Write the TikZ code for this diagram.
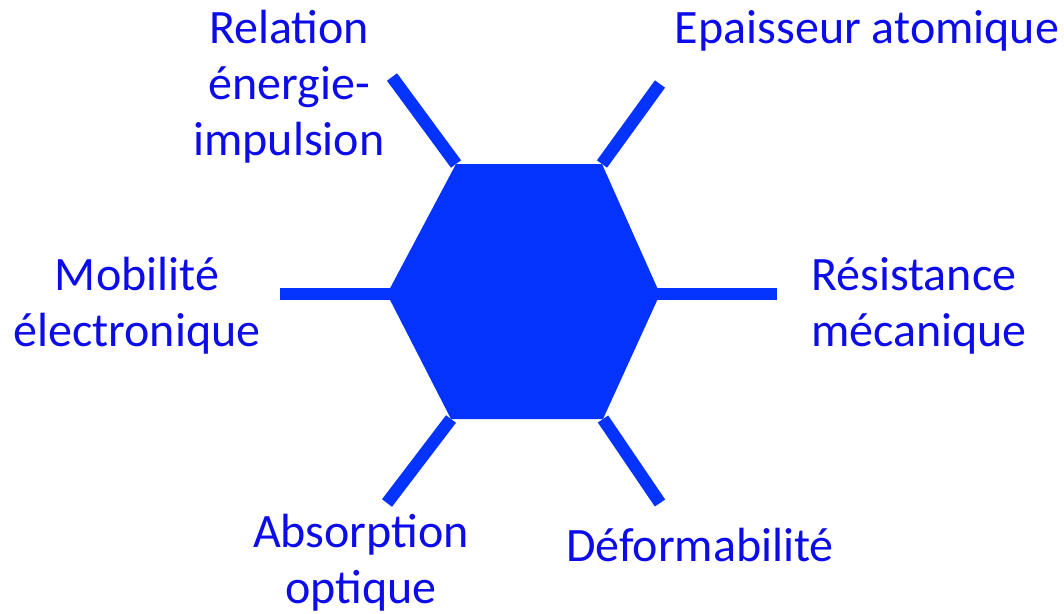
\documentclass[tikz,border=0pt]{standalone}
\usepackage{fontspec}
\setmainfont{Carlito}
\definecolor{hexblue}{RGB}{4,51,255}
\definecolor{txtblue}{RGB}{12,12,235}
\begin{document}
\begin{tikzpicture}[x=1pt,y=-1pt,
  arm/.style={draw=hexblue,line width=12.5pt},
  lbl/.style={text=txtblue,font=\fontsize{48}{56}\selectfont,inner sep=0pt,align=center,anchor=base}]
\useasboundingbox (0,0) rectangle (1064,613);
% hexagon vertices
\coordinate (vtl) at (456,164);
\coordinate (vtr) at (602,164);
\coordinate (vr) at (660,294);
\coordinate (vbr) at (603,419);
\coordinate (vbl) at (451,419);
\coordinate (vl) at (387,294);
% arm ends
\coordinate (etl) at (392,77);
\coordinate (etr) at (660,84);
\coordinate (er) at (777,294);
\coordinate (ebr) at (660,503);
\coordinate (ebl) at (387,503);
\coordinate (el) at (280,294);
\draw[arm] (vtl) -- (etl);
\draw[arm] (vtr) -- (etr);
\draw[arm] ([xshift=-5pt]vr.center) -- (er);
\draw[arm] (vbr) -- (ebr);
\draw[arm] (vbl) -- (ebl);
\draw[arm] ([xshift=5pt]vl.center) -- (el);
\fill[hexblue] (vtl) -- (vtr) -- (vr) -- (vbr) -- (vbl) -- (vl) -- cycle;
% labels (base anchor = baseline of the last line)
\node[lbl] (relation) at (289,155) {Relation\\énergie-\\impulsion};
\node[lbl] (epaisseur) at (867,43) {Epaisseur atomique};
\node[lbl] (mobilite) at (137,346) {Mobilité\\électronique};
\node[lbl,align=left,anchor=base west] (resistance) at (811,346) {Résistance\\mécanique};
\node[lbl] (absorption) at (361,603) {Absorption\\optique};
\node[lbl] (deformabilite) at (700,561) {Déformabilité};
\end{tikzpicture}
\end{document}
